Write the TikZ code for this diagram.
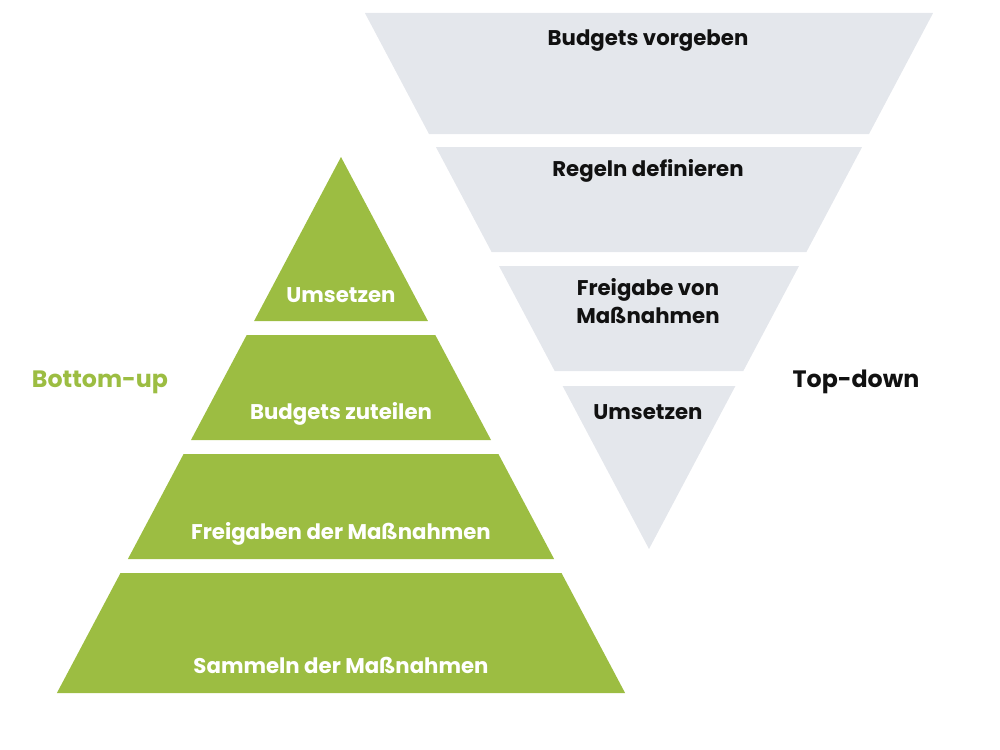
\documentclass[tikz,border=0pt]{standalone}
\usepackage{fontspec}
\setmainfont{Poppins}
\usepackage{tikz}

\definecolor{pyrgreen}{HTML}{9CBD42}
\definecolor{pyrgray}{HTML}{E4E7EC}
\definecolor{txtblack}{HTML}{111111}

\begin{document}
\begin{tikzpicture}[x=0.02cm, y=-0.02cm,
	up/.style={fill=pyrgreen},
	down/.style={fill=pyrgray},
	uplabel/.style={text=white, font=\bfseries\fontsize{12.1}{16}\selectfont, align=center},
	downlabel/.style={text=txtblack, font=\bfseries\fontsize{12.1}{16}\selectfont, align=center},
	side/.style={font=\bfseries\fontsize{13.5}{16}\selectfont}]
	\useasboundingbox (0, 0) rectangle (1000, 750);
	
	% bottom-up pyramid
	\fill[up] (341, 157) -- (427.9, 321) -- (254.1, 321) -- cycle;
	\fill[up] (246.7, 335) -- (435.3, 335) -- (491, 440) -- (191, 440) -- cycle;
	\fill[up] (183.6, 454) -- (498.4, 454) -- (554.1, 559) -- (127.9, 559) -- cycle;
	\fill[up] (120.5, 573) -- (561.5, 573) -- (625.1, 693) -- (56.9, 693) -- cycle;
	
	\node[uplabel] (u1) at (341, 295) {Umsetzen};
	\node[uplabel] (u2) at (341, 414) {Budgets zuteilen};
	\node[uplabel] (u3) at (341, 534) {Freigaben der Maßnahmen};
	\node[uplabel] (u4) at (341, 665) {Sammeln der Maßnahmen};
	
	% top-down pyramid
	\fill[down] (364.9, 13) -- (933.1, 13) -- (869, 134) -- (429, 134) -- cycle;
	\fill[down] (435.9, 147) -- (862.1, 147) -- (806.4, 252) -- (491.6, 252) -- cycle;
	\fill[down] (499, 266) -- (799, 266) -- (743.3, 371) -- (554.7, 371) -- cycle;
	\fill[down] (562.6, 386) -- (735.4, 386) -- (649, 549) -- cycle;
	
	\node[downlabel] (d1) at (648, 41) {Budgets vorgeben};
	\node[downlabel] (d2) at (648, 171) {Regeln definieren};
	\node[downlabel] (d3) at (648, 301) {Freigabe von\\Maßnahmen};
	\node[downlabel] (d4) at (648, 412) {Umsetzen};
	
	\node[side, text=pyrgreen] (bu) at (100, 382) {Bottom-up};
	\node[side, text=txtblack] (td) at (856, 382) {Top-down};
\end{tikzpicture}
\end{document}
